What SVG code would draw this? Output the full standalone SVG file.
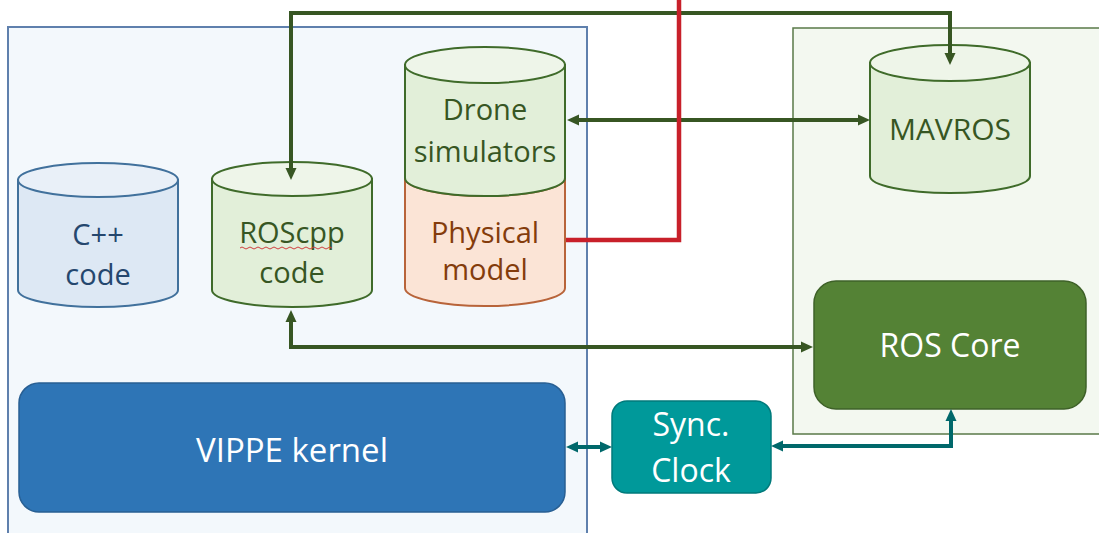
<svg xmlns="http://www.w3.org/2000/svg" width="1099" height="533" viewBox="0 0 1099 533">
  <style>
    text { font-family: "Open Sans", "Liberation Sans", sans-serif; text-anchor: middle; }
    .cyl-blue { fill: #dde8f4; stroke: #41719c; stroke-width: 2; }
    .cyl-blue-top { fill: #e9f0f8; stroke: #41719c; stroke-width: 2; }
    .cyl-green { fill: #e2efd9; stroke: #3f6b2a; stroke-width: 2; }
    .cyl-green-top { fill: #eef5e9; stroke: #3f6b2a; stroke-width: 2; }
    .cyl-orange { fill: #fbe4d6; stroke: #b8643a; stroke-width: 2; }
    .t-blue { fill: #25476e; font-size: 29px; }
    .t-green { fill: #375623; font-size: 29px; }
    .t-brown { fill: #843c0c; font-size: 29px; }
    .t-white { fill: #ffffff; font-size: 32px; }
    .conn-green { fill: none; stroke: #375623; stroke-width: 4; }
    .conn-teal { fill: none; stroke: #00686b; stroke-width: 4; }
    .conn-red { fill: none; stroke: #c8202a; stroke-width: 4.5; }
  </style>
  <defs>
    <marker id="ah-green" markerUnits="userSpaceOnUse" markerWidth="12" markerHeight="12" viewBox="0 0 12 12" refX="4" refY="6" orient="auto-start-reverse">
      <path d="M0,0.5 L12,6 L0,11.5 z" fill="#375623"/>
    </marker>
    <marker id="ah-teal" markerUnits="userSpaceOnUse" markerWidth="12" markerHeight="12" viewBox="0 0 12 12" refX="4" refY="6" orient="auto-start-reverse">
      <path d="M0,0.5 L12,6 L0,11.5 z" fill="#00686b"/>
    </marker>
  </defs>

  <rect width="1099" height="533" fill="#ffffff"/>

  <g id="left-container">
    <rect x="8" y="27" width="579" height="520" fill="#f3f8fc" stroke="#5f80ad" stroke-width="2"/>
  </g>
  <g id="right-container">
    <rect x="793" y="28" width="320" height="406" fill="#f3f8f0" stroke="#5a7a48" stroke-width="1.5"/>
  </g>

  <g id="cpp-code">
    <path class="cyl-blue" d="M18,180 L18,290 A80,17 0 0 0 178,290 L178,180 Z"/>
    <ellipse class="cyl-blue-top" cx="98" cy="180" rx="80" ry="17"/>
    <text class="t-blue" x="98" y="245">C++</text>
    <text class="t-blue" x="98" y="285">code</text>
  </g>

  <g id="roscpp-code">
    <path class="cyl-green" d="M212,179 L212,290 A80,17 0 0 0 372,290 L372,179 Z"/>
    <ellipse class="cyl-green-top" cx="292" cy="179" rx="80" ry="17"/>
    <text class="t-green" x="292" y="243">ROScpp</text>
    <path d="M240,248 q2,-2 4,0 t4,0 t4,0 t4,0 t4,0 t4,0 t4,0 t4,0 t4,0 t4,0 t4,0 t4,0 t4,0 t4,0 t4,0 t4,0 t4,0 t4,0 t4,0 t4,0 t4,0 t4,0 t4,0" fill="none" stroke="#d04040" stroke-width="1"/>
    <text class="t-green" x="292" y="283">code</text>
  </g>

  <g id="drone-physical">
    <path class="cyl-orange" d="M405,178 A80,18 0 0 0 565,178 L565,288 A80,18 0 0 1 405,288 Z"/>
    <path class="cyl-green" d="M405,65 L405,178 A80,18 0 0 0 565,178 L565,65 Z"/>
    <ellipse class="cyl-green-top" cx="485" cy="65" rx="80" ry="18"/>
    <text class="t-green" x="485" y="120">Drone</text>
    <text class="t-green" x="485" y="162">simulators</text>
    <text class="t-brown" x="485" y="243">Physical</text>
    <text class="t-brown" x="485" y="280">model</text>
  </g>

  <g id="mavros">
    <path class="cyl-green" d="M870,63 L870,176 A80,17 0 0 0 1030,176 L1030,63 Z"/>
    <ellipse class="cyl-green-top" cx="950" cy="63" rx="80" ry="18"/>
    <text class="t-green" x="950" y="140" style="font-size:30px">MAVROS</text>
  </g>

  <g id="ros-core">
    <rect x="814" y="281" width="272" height="128" rx="22" fill="#548235" stroke="#3e6128" stroke-width="1.5"/>
    <text class="t-white" x="950" y="357">ROS Core</text>
  </g>

  <g id="vippe-kernel">
    <rect x="19" y="383" width="546" height="129" rx="20" fill="#2e75b6" stroke="#285f93" stroke-width="1.5"/>
    <text class="t-white" x="292" y="462" style="font-size:33px">VIPPE kernel</text>
  </g>

  <g id="sync-clock">
    <rect x="612" y="401" width="159" height="92" rx="15" fill="#00999a" stroke="#007a7b" stroke-width="1.5"/>
    <text class="t-white" x="691" y="436">Sync.</text>
    <text class="t-white" x="691" y="482">Clock</text>
  </g>

  <g id="connectors">
    <path class="conn-green" d="M291,172 L291,13 L950,13 L950,57" marker-start="url(#ah-green)" marker-end="url(#ah-green)"/>
    <path class="conn-green" d="M575,120 L862,120" marker-start="url(#ah-green)" marker-end="url(#ah-green)"/>
    <path class="conn-green" d="M291,318 L291,347 L805,347" marker-start="url(#ah-green)" marker-end="url(#ah-green)"/>
    <path class="conn-teal" d="M574,447 L604,447" marker-start="url(#ah-teal)" marker-end="url(#ah-teal)"/>
    <path class="conn-teal" d="M779,446 L951,446 L951,417" marker-start="url(#ah-teal)" marker-end="url(#ah-teal)"/>
    <path class="conn-red" d="M566,240 L679,240 L679,0"/>
  </g>
</svg>
